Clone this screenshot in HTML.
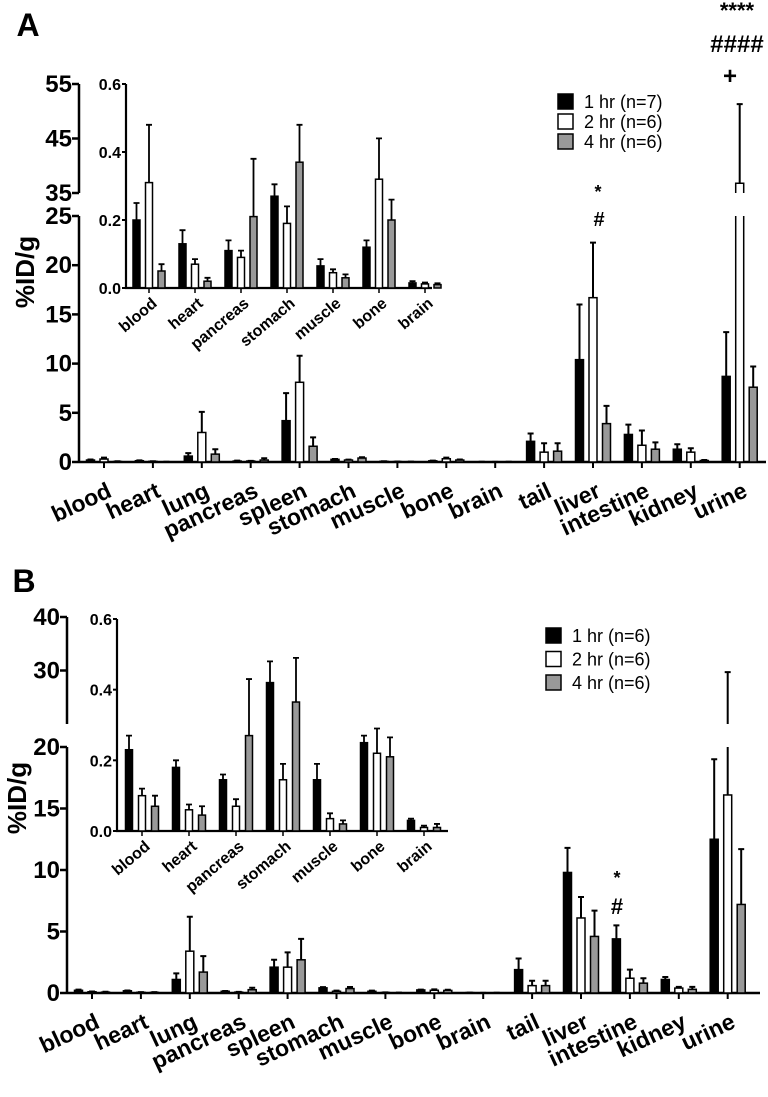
<!DOCTYPE html>
<html><head><meta charset="utf-8"><style>
body{margin:0;background:#fff}
svg{display:block;font-family:"Liberation Sans",Arial,sans-serif}
</style></head><body>
<svg id="fig" width="768" height="1097" viewBox="0 0 768 1097" xmlns="http://www.w3.org/2000/svg"></svg>
<script>
const mainCats = ["blood","heart","lung","pancreas","spleen","stomach","muscle","bone","brain","tail","liver","intestine","kidney","urine"];
const insetCats = ["blood","heart","pancreas","stomach","muscle","bone","brain"];
const seriesNamesA = ["1 hr (n=7)","2 hr (n=6)","4 hr (n=6)"];
const seriesNamesB = ["1 hr (n=6)","2 hr (n=6)","4 hr (n=6)"];
// Panel A main
const a1 = [0.2,0.13,0.6,0.1,4.2,0.27,0.07,0.12,0.01,2.1,10.4,2.8,1.3,8.7];
const a1e= [0.25,0.17,0.9,0.14,7.0,0.3,0.08,0.14,0.02,2.9,16.0,3.8,1.8,13.2];
const a2 = [0.3,0.07,3.0,0.1,8.1,0.2,0.04,0.33,0.01,1.0,16.7,1.7,1.0,36.8];
const a2e= [0.45,0.08,5.1,0.11,10.8,0.24,0.05,0.44,0.015,1.9,22.3,3.2,1.4,51.3];
const a3 = [0.05,0.02,0.8,0.2,1.6,0.4,0.03,0.2,0.01,1.1,3.9,1.3,0.15,7.6];
const a3e= [0.07,0.03,1.3,0.38,2.5,0.48,0.04,0.26,0.02,1.9,5.7,2.0,0.2,9.7];
// Panel A inset
const ai1 = [0.2,0.13,0.11,0.27,0.065,0.12,0.015];
const ai1e= [0.25,0.17,0.14,0.305,0.085,0.14,0.02];
const ai2 = [0.31,0.07,0.09,0.19,0.045,0.32,0.012];
const ai2e= [0.48,0.085,0.11,0.24,0.055,0.44,0.016];
const ai3 = [0.05,0.02,0.21,0.37,0.03,0.2,0.01];
const ai3e= [0.07,0.03,0.38,0.48,0.04,0.26,0.014];
// Panel B main
const b1 = [0.22,0.18,1.1,0.14,2.1,0.42,0.14,0.25,0.03,1.9,9.8,4.4,1.1,12.5];
const b1e= [0.27,0.2,1.6,0.16,2.7,0.48,0.19,0.27,0.035,2.8,11.8,5.5,1.3,19.0];
const b2 = [0.1,0.06,3.4,0.07,2.1,0.14,0.04,0.22,0.01,0.6,6.1,1.2,0.4,16.1];
const b2e= [0.12,0.075,6.2,0.09,3.3,0.19,0.05,0.29,0.015,1.0,7.8,1.9,0.5,29.7];
const b3 = [0.07,0.05,1.7,0.27,2.7,0.36,0.02,0.21,0.01,0.6,4.6,0.8,0.3,7.2];
const b3e= [0.1,0.07,3.0,0.43,4.4,0.49,0.03,0.265,0.02,1.0,6.7,1.2,0.5,11.7];
// Panel B inset
const bi1 = [0.23,0.18,0.145,0.42,0.145,0.25,0.03];
const bi1e= [0.27,0.2,0.16,0.48,0.19,0.27,0.035];
const bi2 = [0.1,0.06,0.07,0.145,0.035,0.22,0.01];
const bi2e= [0.12,0.075,0.09,0.19,0.05,0.29,0.015];
const bi3 = [0.07,0.045,0.27,0.365,0.02,0.21,0.01];
const bi3e= [0.1,0.07,0.43,0.49,0.03,0.265,0.02];
const ticksA_low = [0,5,10,15,20,25];
const ticksA_up = [35,45,55];
const ticksB_low = [0,5,10,15,20];
const ticksB_up = [30,40];
const insetTicks = [0,0.2,0.4,0.6];

const NS="http://www.w3.org/2000/svg";
const svg=document.getElementById('fig');
const fills=["#000","#fff","#999"];
function mk(tag,attrs,parent){const e=document.createElementNS(NS,tag);for(const k in attrs)e.setAttribute(k,attrs[k]);(parent||svg).appendChild(e);return e;}
function txt(s,attrs,parent){const e=mk('text',attrs,parent);e.textContent=s;return e;}

function mainChart(cfg){
  const g=mk('g',{});
  
  
  const L=cfg.low,U=cfg.up;
  const yL=v=>L.y0-(v/L.max)*(L.y0-L.yt);
  const yU=v=>U.yb-(v-U.min)/(U.max-U.min)*(U.yb-U.yt);
  const xc=i=>cfg.c0+i*cfg.sp;
  const ax=mk('path',{d:`M${cfg.x0} ${L.y0}V${L.yt}M${cfg.x0} ${U.yb}V${U.yt}M${cfg.x0} ${L.y0}H${cfg.xEnd}`,stroke:'#000','stroke-width':2.5,fill:'none'},g);
  
  
  cfg.tl.concat(cfg.tu).forEach((t,j)=>{const y=j<cfg.tl.length?yL(t):yU(t);
    mk('line',{x1:cfg.x0-7,x2:cfg.x0,y1:y,y2:y,stroke:'#000','stroke-width':2.5},g);
    const e=txt(String(t),{x:cfg.x0-7,y:y+8,'text-anchor':'end','font-size':24,'font-weight':'bold'},g);
    
    });
  const yt=txt('%ID/g',{transform:`translate(${cfg.titleX},${cfg.titleY}) rotate(-90)`,'text-anchor':'middle','font-size':26,'font-weight':'bold'},g);
  
  
  mainCats.forEach((c,i)=>{
    const x=xc(i);
    mk('line',{x1:x,x2:x,y1:L.y0,y2:L.y0+6,stroke:'#000','stroke-width':2},g);
    const e=txt(c,{transform:`translate(${x+9},${L.y0+34}) rotate(-25)`,'text-anchor':'end','font-size':23,'font-weight':'bold'},g);
    
    
    cfg.series.forEach((s,k)=>{
      const bx=x+(k-1)*cfg.off-cfg.bw/2, v=s[0][i], ev=s[1][i];
      let r;
      if(v<=L.max){const topL=yL(v);
        r=mk('rect',{x:bx,y:topL,width:cfg.bw,height:L.y0-topL,fill:fills[k],stroke:'#000','stroke-width':1.5},g);
      } else {
        r=mk('path',{d:`M${bx} ${L.yt}V${L.y0}H${bx+cfg.bw}V${L.yt}`,fill:fills[k],stroke:'#000','stroke-width':1.5},g);
        const tu=yU(v);
        mk('path',{d:`M${bx} ${U.yb}V${tu}H${bx+cfg.bw}V${U.yb}`,fill:fills[k],stroke:'#000','stroke-width':1.5},g);
      }
      
      
      const cx=bx+cfg.bw/2;
      if(ev<=L.max){ mk('path',{d:`M${cx} ${yL(v)}V${yL(ev)}M${cx-3} ${yL(ev)}H${cx+3}`,stroke:'#000','stroke-width':2},g); }
      else { const st=v<=L.max?yL(v):yU(v);
        if(v<=L.max) mk('path',{d:`M${cx} ${st}V${L.yt}`,stroke:'#000','stroke-width':2},g);
        mk('path',{d:`M${cx} ${v<=L.max?U.yb:st}V${yU(ev)}M${cx-3} ${yU(ev)}H${cx+3}`,stroke:'#000','stroke-width':2},g);}
    });
  });
}
function inset(cfg){
  const g=mk('g',{});
  
  
  const y=v=>cfg.y0-v/0.6*(cfg.y0-cfg.yt);
  const xc=i=>cfg.c0+i*cfg.sp;
  const ax=mk('path',{d:`M${cfg.x0} ${cfg.yt}V${cfg.y0}H${cfg.xEnd}`,stroke:'#000','stroke-width':2.2,fill:'none'},g);
  
  
  insetTicks.forEach(t=>{const yy=y(t);mk('line',{x1:cfg.x0-4,x2:cfg.x0,y1:yy,y2:yy,stroke:'#000','stroke-width':2},g);
    const e=txt(t.toFixed(1),{x:cfg.x0-5,y:yy+6,'text-anchor':'end','font-size':16,'font-weight':'bold'},g);
    
    });
  insetCats.forEach((c,i)=>{
    const x=xc(i);
    mk('line',{x1:x,x2:x,y1:cfg.y0,y2:cfg.y0+5,stroke:'#000','stroke-width':1.5},g);
    const e=txt(c,{transform:`translate(${x+9},${cfg.y0+17}) rotate(-40)`,'text-anchor':'end','font-size':16,'font-weight':'bold'},g);
    
    
    cfg.series.forEach((s,k)=>{
      const bx=x+(k-1)*cfg.off-cfg.bw/2, v=s[0][i], ev=s[1][i], cx=bx+cfg.bw/2;
      const r=mk('rect',{x:bx,y:y(v),width:cfg.bw,height:cfg.y0-y(v),fill:fills[k],stroke:'#000','stroke-width':1.5},g);
      
      
      mk('path',{d:`M${cx} ${y(v)}V${y(ev)}M${cx-3} ${y(ev)}H${cx+3}`,stroke:'#000','stroke-width':1.8},g);
    });
  });
}
function legend(x,y0,names,gap,name){
  const g=mk('g',{});
  
  
  names.forEach((n,k)=>{const y=y0+k*gap;
    mk('rect',{x:x,y:y-7,width:15,height:15,fill:fills[k],stroke:'#000','stroke-width':1.5},g);
    const e=txt(n,{x:x+26,y:y+7,'font-size':18},g);
    
    });
}
function label(s,x,y,size,name){const e=txt(s,{x:x,y:y,'text-anchor':'middle','font-size':size,'font-weight':'bold'});
  
  }

label('A',28,36,32,'panel-a-label');
mainChart({name:'panel-a-main',x0:79,xEnd:766,c0:104,sp:48.9,bw:8,off:13.5,titleX:34,titleY:272,
  low:{y0:462,yt:216,max:25},up:{yb:193,yt:84,min:35,max:55},tl:ticksA_low,tu:ticksA_up,
  series:[[a1,a1e],[a2,a2e],[a3,a3e]]});
inset({name:'panel-a-inset',x0:126,xEnd:432,y0:288,yt:84,c0:149,sp:46,bw:7,off:12.5,
  series:[[ai1,ai1e],[ai2,ai2e],[ai3,ai3e]]});
legend(558,101,seriesNamesA,20,'legend-a');
label('*',598,198,18,'sig-liver-star');
label('#',599,226,20,'sig-liver-hash');
label('****',737,18,22,'sig-urine-star');
label('####',737,52,24,'sig-urine-hash');
label('+',730,84,24,'sig-urine-plus');

label('B',24,592,32,'panel-b-label');
mainChart({name:'panel-b-main',x0:67,xEnd:760,c0:92,sp:48.9,bw:8,off:13.5,titleX:26,titleY:798,
  low:{y0:993,yt:747,max:20},up:{yb:724,yt:617,min:20,max:40},tl:ticksB_low,tu:ticksB_up,
  series:[[b1,b1e],[b2,b2e],[b3,b3e]]});
inset({name:'panel-b-inset',x0:117,xEnd:448,y0:831,yt:619,c0:142,sp:47,bw:7,off:13,
  series:[[bi1,bi1e],[bi2,bi2e],[bi3,bi3e]]});
legend(546,635,seriesNamesB,23.5,'legend-b');
label('*',617,884,18,'sig-intestine-star');
label('#',617,914,22,'sig-intestine-hash');
</script>
</body></html>
